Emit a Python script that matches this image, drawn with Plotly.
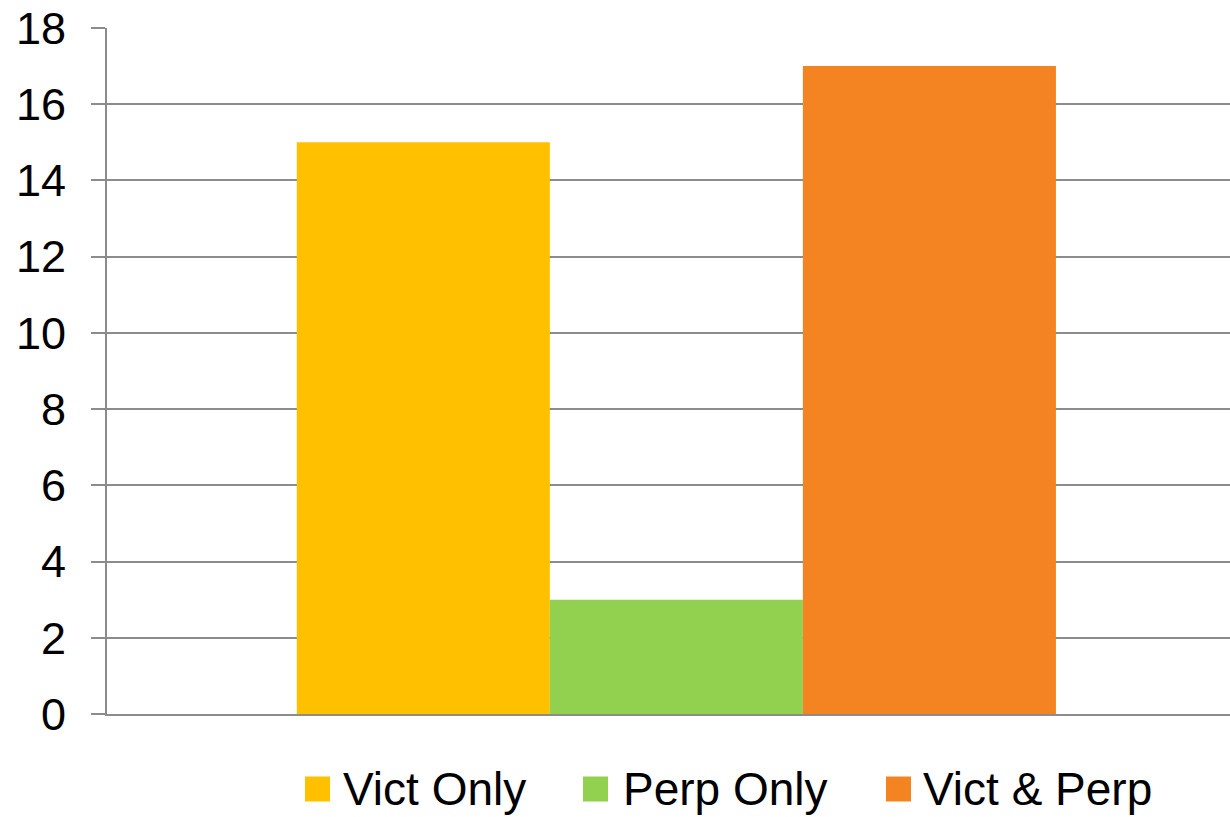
import plotly.graph_objects as go

# Counts per group
series_names = ["Vict Only", "Perp Only", "Vict & Perp"]
series_values = [15, 3, 17]
series_colors = ["#FFC000", "#92D050", "#F48422"]
category = [""]

y_ticks = [0, 2, 4, 6, 8, 10, 12, 14, 16, 18]

W, H = 1230, 817
M_L, M_R, M_T, M_B = 107, 0, 28, 103
GRID = "#8C8C8C"
FONT = "Liberation Sans, Arial, sans-serif"

fig = go.Figure()
for name, val, col in zip(series_names, series_values, series_colors):
    fig.add_trace(go.Bar(x=category, y=[val], name=name, marker=dict(color=col, line=dict(width=0)),
                         showlegend=False))

# pixel -> paper helpers for the hand-built legend
pw, ph = W - M_L - M_R, H - M_T - M_B
def px(x):
    return (x - M_L) / pw
def py(y):
    return (H - M_B - y) / ph

sw_left = [305, 583, 886]
txt_left = [341, 621, 921]
sw_size = 25
leg_cy = 789
shapes = []
annotations = []
for name, col, sx, tx in zip(series_names, series_colors, sw_left, txt_left):
    shapes.append(dict(type="rect", xref="paper", yref="paper",
                       x0=px(sx), x1=px(sx + sw_size),
                       y0=py(leg_cy - sw_size / 2), y1=py(leg_cy + sw_size / 2),
                       fillcolor=col, line=dict(width=0)))
    annotations.append(dict(text=name, xref="paper", yref="paper", x=px(tx), y=py(leg_cy),
                            xanchor="left", yanchor="middle", showarrow=False,
                            font=dict(family=FONT, size=46, color="#000000")))

fig.update_layout(
    width=W, height=H, autosize=False,
    margin=dict(l=M_L, r=M_R, t=M_T, b=M_B, pad=0),
    paper_bgcolor="white", plot_bgcolor="white",
    barmode="group", bargap=0.324, bargroupgap=0,
    font=dict(family=FONT, size=45, color="#000000"),
    shapes=shapes, annotations=annotations,
    xaxis=dict(range=[-0.507, 0.493], showticklabels=False, showgrid=False, zeroline=False,
               showline=True, linecolor=GRID, linewidth=2, ticks="", fixedrange=True),
    yaxis=dict(range=[0, 18], tickvals=y_ticks, showgrid=True, gridcolor=GRID, gridwidth=2,
               zeroline=False, showline=True, linecolor=GRID, linewidth=2,
               ticks="outside", ticklen=14, tickwidth=2, tickcolor=GRID,
               ticklabelstandoff=16, tickfont=dict(family=FONT, size=45, color="#000000")),
)

fig.write_html("out.html")
